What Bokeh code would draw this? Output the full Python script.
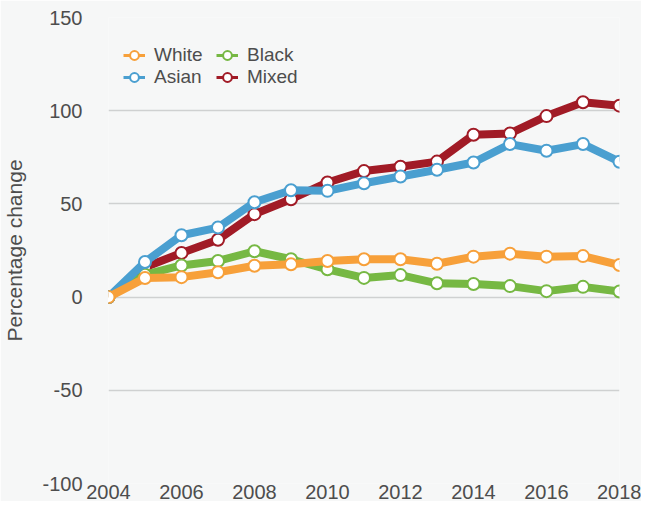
from bokeh.plotting import figure
from bokeh.models import Legend, LegendItem, FixedTicker
from bokeh.embed import file_html
from bokeh.resources import INLINE

years = list(range(2004, 2019))
white = [0, 10.2, 10.7, 13.3, 16.8, 17.6, 19.4, 20.3, 20.3, 17.9, 21.7, 23.3, 21.7, 22.0, 17.2]
black = [0, 12.0, 17.0, 19.4, 24.6, 20.3, 14.9, 10.3, 11.8, 7.4, 7.0, 5.9, 3.2, 5.5, 3.0]
asian = [0, 18.8, 33.2, 37.3, 50.9, 57.3, 57.0, 61.1, 64.7, 68.3, 72.2, 82.1, 78.5, 82.1, 72.6]
mixed = [0, 16.0, 23.7, 30.8, 44.5, 52.5, 61.5, 67.6, 69.9, 72.7, 87.1, 87.8, 97.1, 104.5, 102.7]
y_ticks = [-100, -50, 0, 50, 100, 150]
x_ticks = [2004, 2006, 2008, 2010, 2012, 2014, 2016, 2018]

BG = "#f6f7f7"
TXT = "#4d4d4d"
FONT = "Liberation Sans"

p = figure(width=641, height=501, x_range=(2004, 2018), y_range=(-100, 150),
           output_backend="svg", toolbar_location=None,
           min_border_left=108, min_border_right=22, min_border_top=17, min_border_bottom=0)
p.background_fill_color = BG
p.border_fill_color = BG
p.outline_line_color = None

p.xgrid.grid_line_color = None
p.ygrid.grid_line_color = "#cfd1d1"
p.ygrid.grid_line_width = 1.5
p.ygrid.ticker = FixedTicker(ticks=y_ticks)

for ax in (p.xaxis[0], p.yaxis[0]):
    ax.axis_line_color = None
    ax.major_tick_line_color = None
    ax.minor_tick_line_color = None
    ax.major_tick_out = 0
    ax.major_tick_in = 0
    ax.major_label_text_font = FONT
    ax.major_label_text_font_size = "20px"
    ax.major_label_text_color = TXT

p.xaxis.ticker = FixedTicker(ticks=x_ticks)
p.yaxis.ticker = FixedTicker(ticks=y_ticks)
p.yaxis.major_label_overrides = {-100: "-100", -50: "-50"}
p.xaxis.major_label_standoff = 1
p.yaxis.major_label_standoff = 26
p.yaxis.axis_label = "Percentage change"
p.yaxis.axis_label_text_font = FONT
p.yaxis.axis_label_text_font_size = "21px"
p.yaxis.axis_label_text_font_style = "normal"
p.yaxis.axis_label_text_color = TXT
p.yaxis.axis_label_standoff = 13

series = [
    ("Mixed", mixed, "#a11b26"),
    ("Black", black, "#76b843"),
    ("Asian", asian, "#4a9fd0"),
    ("White", white, "#f7a03a"),
]
nan = float("nan")
items = {}
for name, vals, col in series:
    p.line(years, vals, line_color=col, line_width=8)
    p.scatter(years, vals, size=12, fill_color="white", line_color=col, line_width=2)
    # legend-key glyphs only (a single NaN point, nothing is drawn in the plot)
    ll = p.line(x=[nan], y=[nan], line_color=col, line_width=3)
    ls = p.scatter(x=[nan], y=[nan], fill_color="white", line_color=col, line_width=2)
    items[name] = [ll, ls]

legend = Legend(
    items=[LegendItem(label=n, renderers=items[n]) for n in ["White", "Asian", "Black", "Mixed"]],
    location=(15, 395), orientation="vertical", nrows=2,
    background_fill_alpha=0, border_line_color=None,
    padding=0, margin=0, spacing=0,
    glyph_width=22, glyph_height=22, label_height=22, label_width=62, label_standoff=9,
    label_text_font=FONT, label_text_font_size="19px", label_text_color=TXT,
)
p.add_layout(legend, "center")

open("out.html", "w").write(file_html(p, INLINE))
